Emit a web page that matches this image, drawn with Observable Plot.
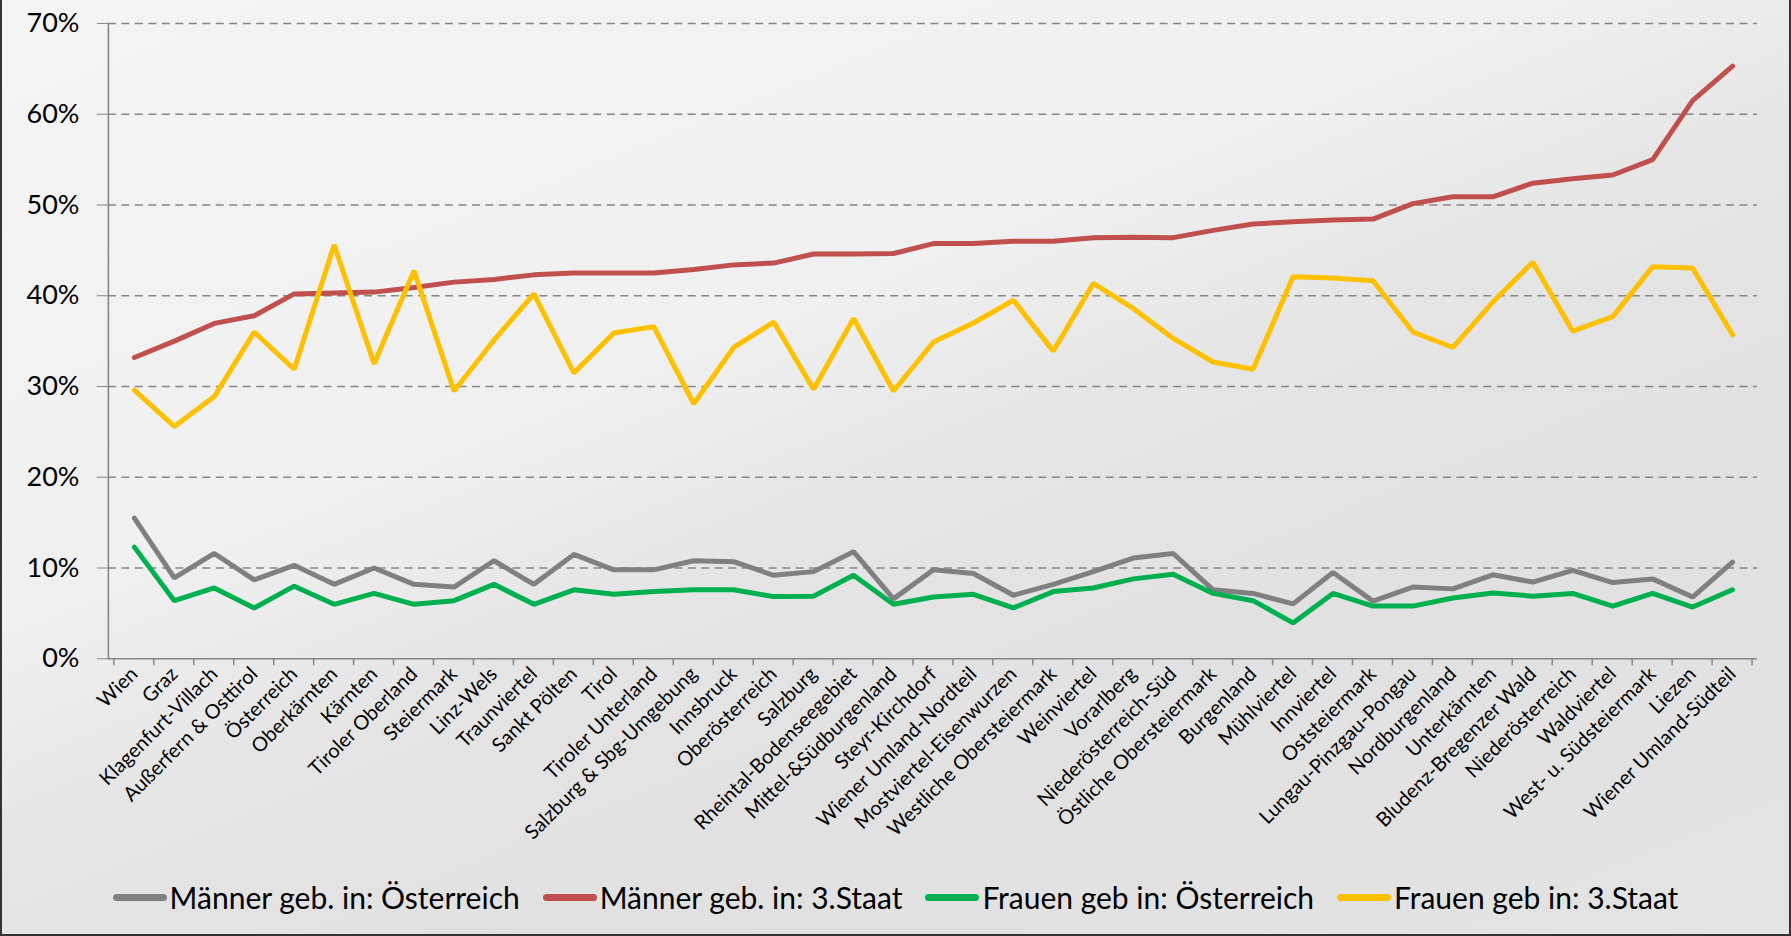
<!DOCTYPE html>
<html>
<head>
<meta charset="utf-8">
<script src="https://cdn.jsdelivr.net/npm/d3@7"></script>
<script src="https://cdn.jsdelivr.net/npm/@observablehq/plot@0.6"></script>
<style>
  html, body { margin: 0; padding: 0; }
  body { width: 1791px; height: 936px; overflow: hidden; font-family: Lato, "Open Sans", sans-serif; }
  #wrap {
    position: relative; width: 1791px; height: 936px; box-sizing: border-box;
    border-left: 2px solid #333; border-right: 2px solid #333; border-bottom: 2px solid #333;
    background: linear-gradient(158deg, #f5f4f4 0%, #f1f0f0 38%, #e6e5e5 52%, #e2e1e1 70%, #e4e3e3 100%);
  }
  #chart { position: absolute; left: -2px; top: 0; }
  #legend {
    position: absolute; left: 0; top: 860px; width: 1787px; height: 74px;
    display: flex; justify-content: center; align-items: center; gap: 23px;
  }
  .item { display: flex; align-items: center; gap: 3px; font-size: 30px; color: #000; }
  .sw { width: 54px; height: 7px; border-radius: 4px; }
</style>
</head>
<body>
<div id="wrap">
  <div id="chart"></div>
  <div id="legend"></div>
</div>
<script>
const categories = [
  "Wien", "Graz", "Klagenfurt-Villach", "Außerfern & Osttirol", "Österreich", "Oberkärnten",
  "Kärnten", "Tiroler Oberland", "Steiermark", "Linz-Wels", "Traunviertel", "Sankt Pölten",
  "Tirol", "Tiroler Unterland", "Salzburg & Sbg-Umgebung", "Innsbruck", "Oberösterreich",
  "Salzburg", "Rheintal-Bodenseegebiet", "Mittel-&Südburgenland", "Steyr-Kirchdorf",
  "Wiener Umland-Nordteil", "Mostviertel-Eisenwurzen", "Westliche Obersteiermark",
  "Weinviertel", "Vorarlberg", "Niederösterreich-Süd", "Östliche Obersteiermark",
  "Burgenland", "Mühlviertel", "Innviertel", "Oststeiermark", "Lungau-Pinzgau-Pongau",
  "Nordburgenland", "Unterkärnten", "Bludenz-Bregenzer Wald", "Niederösterreich",
  "Waldviertel", "West- u. Südsteiermark", "Liezen", "Wiener Umland-Südteil"
];

// values in percent
const maennerOesterreich = [15.5, 8.9, 11.6, 8.7, 10.3, 8.2, 10.0, 8.2, 7.9, 10.8, 8.2, 11.5, 9.8, 9.8, 10.8, 10.7, 9.2, 9.6, 11.8, 6.6, 9.8, 9.4, 7.0, 8.2, 9.6, 11.1, 11.6, 7.6, 7.2, 6.05, 9.5, 6.35, 7.9, 7.7, 9.25, 8.45, 9.75, 8.4, 8.8, 6.8, 10.65];
const maennerDrittstaat = [33.2, 35.0, 36.95, 37.8, 40.2, 40.3, 40.4, 40.9, 41.5, 41.8, 42.3, 42.5, 42.5, 42.5, 42.9, 43.4, 43.6, 44.6, 44.6, 44.65, 45.75, 45.75, 46.0, 46.0, 46.4, 46.45, 46.4, 47.2, 47.9, 48.15, 48.35, 48.45, 50.15, 50.9, 50.9, 52.4, 52.9, 53.3, 55.0, 61.5, 65.3];
const frauenOesterreich = [12.3, 6.4, 7.8, 5.6, 8.0, 6.0, 7.2, 6.0, 6.4, 8.2, 6.0, 7.6, 7.1, 7.4, 7.6, 7.6, 6.85, 6.9, 9.2, 6.0, 6.8, 7.1, 5.6, 7.4, 7.8, 8.8, 9.3, 7.2, 6.4, 3.95, 7.2, 5.8, 5.8, 6.7, 7.25, 6.9, 7.2, 5.8, 7.2, 5.7, 7.6];
const frauenDrittstaat = [29.6, 25.6, 28.9, 36.0, 31.9, 45.6, 32.5, 42.75, 29.5, 35.1, 40.2, 31.5, 35.9, 36.6, 28.1, 34.3, 37.1, 29.7, 37.5, 29.5, 34.9, 37.0, 39.5, 33.9, 41.35, 38.6, 35.3, 32.7, 31.9, 42.1, 41.95, 41.65, 36.0, 34.3, 39.3, 43.7, 36.1, 37.7, 43.2, 43.05, 35.7];

const seriesNames = ["Männer geb. in: Österreich", "Männer geb. in: 3.Staat", "Frauen geb in: Österreich", "Frauen geb in: 3.Staat"];
const seriesColors = ["#808080", "#C0504D", "#00B050", "#FFC000"];
const yTicks = [0, 10, 20, 30, 40, 50, 60, 70];

const seriesValues = [maennerOesterreich, maennerDrittstaat, frauenOesterreich, frauenDrittstaat];
const data = [];
seriesNames.forEach((name, s) => {
  categories.forEach((c, i) => data.push({cat: c, series: name, value: seriesValues[s][i]}));
});

function bandTicks(index, scales, values, dimensions, context) {
  const x = scales.x;
  const dom = x.domain();
  const bw = x.bandwidth ? x.bandwidth() : 0;
  const y0 = scales.y(0);
  const pos = dom.map(d => x(d)).concat([x(dom[dom.length - 1]) + bw]);
  const g = d3.create("svg:g");
  g.selectAll("line").data(pos).join("line")
    .attr("x1", d => d).attr("x2", d => d)
    .attr("y1", y0).attr("y2", y0 + 7)
    .attr("stroke", "#868686").attr("stroke-width", 1.5);
  return g.node();
}

const chart = Plot.plot({
  width: 1791,
  height: 860,
  marginLeft: 108,
  marginRight: 32,
  marginTop: 23,
  marginBottom: 201,
  style: {background: "transparent", fontFamily: "Lato, 'Open Sans', sans-serif", overflow: "visible"},
  x: {type: "band", domain: categories, paddingInner: 0, paddingOuter: 0, label: null},
  y: {domain: [0, 70], label: null},
  color: {domain: seriesNames, range: seriesColors},
  marks: [
    Plot.gridY(yTicks.filter(d => d > 0), {stroke: "#868686", strokeOpacity: 1, strokeWidth: 1.6, strokeDasharray: "8,5.5"}),
    Plot.ruleY([0], {stroke: "#868686", strokeWidth: 1.6}),
    Plot.frame({anchor: "left", stroke: "#868686", strokeWidth: 1.6}),
    Plot.axisY(yTicks, {tickSize: 11, tickPadding: 18, fontSize: 27, stroke: "#868686", fill: "#000", tickFormat: d => d + "%"}),
    bandTicks,
    Plot.axisX({tickSize: 0, tickRotate: -45, fontSize: 20, tickPadding: 12, fill: "#000"}),
    Plot.lineY(data, {x: "cat", y: "value", z: "series", stroke: "series", strokeWidth: 5, strokeLinejoin: "miter", strokeLinecap: "round"})
  ]
});
document.getElementById("chart").appendChild(chart);

const legend = d3.select("#legend");
seriesNames.forEach((name, i) => {
  const it = legend.append("div").attr("class", "item");
  it.append("div").attr("class", "sw").style("background", seriesColors[i]);
  it.append("span").text(name);
});
</script>
</body>
</html>
